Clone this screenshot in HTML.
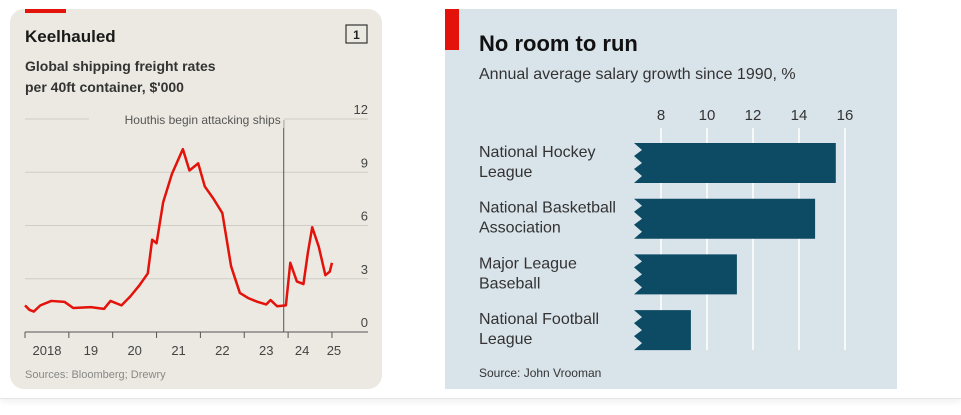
<!DOCTYPE html>
<html><head><meta charset="utf-8"><style>
body{margin:0;width:961px;height:410px;background:#fff;overflow:hidden;font-family:"Liberation Sans",sans-serif;position:relative}
#wrap{position:absolute;left:0;top:0;width:961px;height:398px;border-bottom:1px solid #e6e6e6;box-shadow:0 3px 6px rgba(0,0,0,0.06)}
</style></head><body>
<div id="wrap">
<svg width="961" height="410">
<g>
 <rect x="10" y="9" width="372" height="380" rx="14" fill="#ebe9e1"/>
 <rect x="25" y="9" width="41" height="4" fill="#e3120b"/>
 <text x="25" y="42" font-size="17" font-weight="bold" fill="#1a1a1a">Keelhauled</text>
 <rect x="346" y="25" width="21" height="18" fill="none" stroke="#333" stroke-width="1.2"/>
 <text x="356.5" y="39" font-size="12" font-weight="bold" text-anchor="middle" fill="#222">1</text>
 <text x="25" y="71" font-size="14" font-weight="bold" fill="#333">Global shipping freight rates</text>
 <text x="25" y="92" font-size="14" font-weight="bold" fill="#333">per 40ft container, $'000</text>
 <g id="lgrid"></g>
 <g id="lline"></g>
 <text x="25" y="378" font-size="11" fill="#888">Sources: Bloomberg; Drewry</text>
</g>
<g>
 <rect x="445" y="9" width="452" height="380" fill="#d9e3ea"/>
 <rect x="445" y="9" width="14" height="41" fill="#e3120b"/>
 <text x="479" y="51" font-size="22" font-weight="bold" fill="#111">No room to run</text>
 <text x="479" y="79" font-size="16" fill="#333">Annual average salary growth since 1990, %</text>
 <g id="rchart"></g>
 <text x="479" y="377" font-size="12" fill="#333">Source: John Vrooman</text>
</g>
</svg>
</div>
<script>
const lineDates=[2018.0,2018.1,2018.2,2018.35,2018.6,2018.9,2019.1,2019.5,2019.8,2019.95,2020.2,2020.4,2020.6,2020.8,2020.9,2021.0,2021.15,2021.35,2021.6,2021.75,2021.95,2022.1,2022.3,2022.5,2022.7,2022.9,2023.1,2023.3,2023.5,2023.6,2023.75,2023.95,2024.05,2024.2,2024.35,2024.45,2024.55,2024.7,2024.85,2024.95,2025.0];
const lineValues=[1.5,1.25,1.15,1.5,1.75,1.7,1.35,1.4,1.3,1.75,1.5,2.0,2.6,3.3,5.2,5.0,7.3,8.9,10.3,9.1,9.5,8.2,7.5,6.7,3.7,2.2,1.9,1.7,1.55,1.8,1.45,1.5,3.9,2.85,2.7,4.45,5.9,4.8,3.2,3.4,3.9];
const yTicks=[0,3,6,9,12];
const xTickYears=[2018,2019,2020,2021,2022,2023,2024,2025];
const xTickLabels=["2018","19","20","21","22","23","24","25"];
const eventYear=2023.9;
const NS="http://www.w3.org/2000/svg";
function el(t,a,p){const e=document.createElementNS(NS,t);for(const k in a)e.setAttribute(k,a[k]);p.appendChild(e);return e;}
const lx=y=>25+(y-2018)*43.85, ly=v=>332-v*17.75;
const g=document.getElementById('lgrid');
yTicks.forEach(v=>{
 if(v>0){const l=el('line',{x1:25,x2:368,y1:ly(v),y2:ly(v),stroke:'#cfcdc5','stroke-width':1},g);
 
 }
 const t=el('text',{x:368,y:ly(v)-5,'font-size':13,'text-anchor':'end',fill:'#444'},g);t.textContent=v;
 
 
});
const ax=el('line',{x1:25,x2:368,y1:332,y2:332,stroke:'#555','stroke-width':1},g);


xTickYears.forEach((y,i)=>{
 el('line',{x1:lx(y),x2:lx(y),y1:332,y2:338,stroke:'#555'},g);
 const t=el('text',{x:lx(y)+(i==0?22:22),y:355,'font-size':13,'text-anchor':'middle',fill:'#444'},g);
 if(i==7)t.setAttribute('x',lx(y)+2);
 if(i==6)t.setAttribute('x',lx(y)+22-8);
 t.textContent=xTickLabels[i];
 
 
});
const ex=lx(eventYear);
const ev=el('line',{x1:ex,x2:ex,y1:120,y2:332,stroke:'#555','stroke-width':1},g);


el('rect',{x:89,y:112,width:ex-89,height:16,fill:'#ebe9e1'},g);
const et=el('text',{x:ex-3,y:124,'font-size':12,'text-anchor':'end',fill:'#555'},g);
et.textContent='Houthis begin attacking ships';


const pl=el('polyline',{points:lineDates.map((d,i)=>lx(d)+','+ly(lineValues[i])).join(' '),fill:'none',stroke:'#e3120b','stroke-width':2.5,'stroke-linejoin':'round'},document.getElementById('lline'));



const barCats=[["National Hockey","League"],["National Basketball","Association"],["Major League","Baseball"],["National Football","League"]];
const barValues=[15.6,14.7,11.3,9.3];
const barTicks=[8,10,12,14,16];
const rx=v=>661+(v-8)*23;
const rc=document.getElementById('rchart');
barTicks.forEach(v=>{
 const l=el('line',{x1:rx(v),x2:rx(v),y1:128,y2:350,stroke:'#fff','stroke-width':1.5},rc);
 
 
 const t=el('text',{x:rx(v),y:120,'font-size':15,'text-anchor':'middle',fill:'#333'},rc);t.textContent=v;
 
 
});
barCats.forEach((c,i)=>{
 const y0=143+i*55.7,h=40,x0=634,x1=rx(barValues[i]);
 const p=el('path',{d:`M${x0},${y0} L${x1},${y0} L${x1},${y0+h} L${x0},${y0+h} L${x0+8},${y0+h-7} L${x0},${y0+h-14} L${x0+8},${y0+h-20} L${x0},${y0+h-27} L${x0+8},${y0+h-33} Z`,fill:'#0d4a63'},rc);
 
 
 c.forEach((s,j)=>{const t=el('text',{x:479,y:y0+14+j*20,'font-size':16,fill:'#333'},rc);t.textContent=s;
 
 });
});
</script>
</body></html>
